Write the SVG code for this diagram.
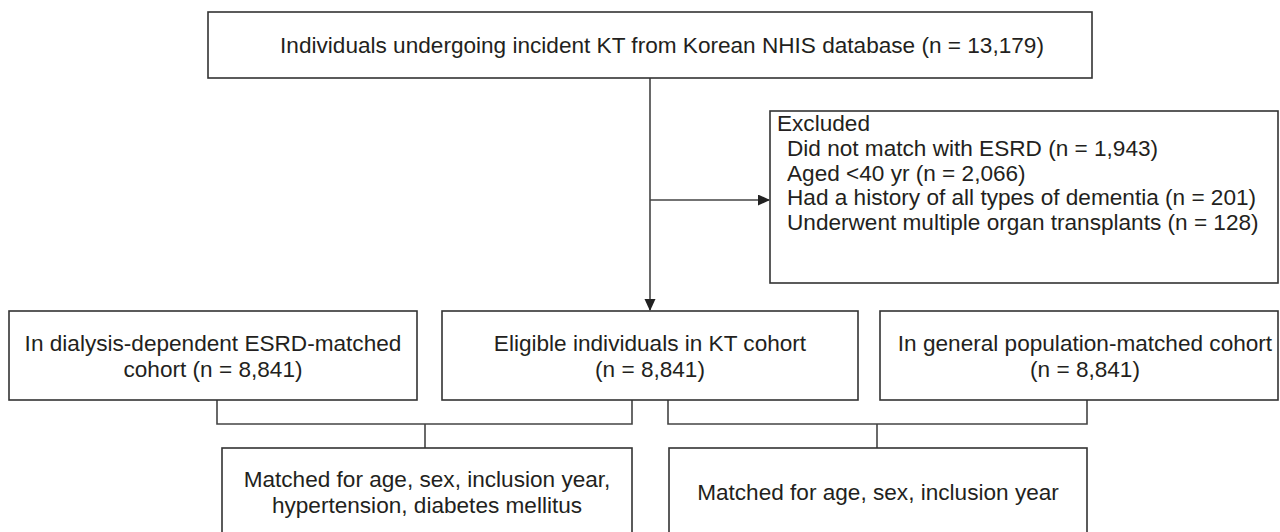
<svg xmlns="http://www.w3.org/2000/svg" width="1280" height="532" viewBox="0 0 1280 532">
<defs>
<style>
.box{fill:#fff;stroke:#333;stroke-width:1.6}
.t{font-family:"Liberation Sans",Arial,sans-serif;font-size:22.6px;fill:#231f20}
.c{text-anchor:middle}
.ln{fill:none;stroke:#444;stroke-width:1.6}
</style>
<marker id="ah" markerWidth="12" markerHeight="12" refX="11" refY="5.5" orient="auto" markerUnits="userSpaceOnUse">
<path d="M0,0 L12,5.5 L0,11 z" fill="#222"/>
</marker>
</defs>
<rect width="1280" height="532" fill="#fff"/>
<g id="connectors">
<path class="ln" d="M650,78 V310" marker-end="url(#ah)"/>
<path class="ln" d="M650,200 H769" marker-end="url(#ah)"/>
<path class="ln" d="M217,400 V424 H632 V400"/>
<path class="ln" d="M425,424 V448"/>
<path class="ln" d="M668,400 V424 H1087 V400"/>
<path class="ln" d="M877,424 V448"/>
</g>
<g id="n-source">
<rect class="box" x="208" y="12" width="884" height="66"/>
<text class="t c" x="662" y="53">Individuals undergoing incident KT from Korean NHIS database (n = 13,179)</text>
</g>
<g id="n-excluded">
<rect class="box" x="770" y="111" width="508" height="172"/>
<text class="t" x="777" y="131">Excluded</text>
<text class="t" x="787" y="156">Did not match with ESRD (n = 1,943)</text>
<text class="t" x="787" y="180.5">Aged &lt;40 yr (n = 2,066)</text>
<text class="t" x="787" y="205">Had a history of all types of dementia (n = 201)</text>
<text class="t" x="787" y="229.5">Underwent multiple organ transplants (n = 128)</text>
</g>
<g id="n-esrd">
<rect class="box" x="9" y="311" width="408" height="89"/>
<text class="t c" x="213" y="351">In dialysis-dependent ESRD-matched</text>
<text class="t c" x="213" y="377">cohort (n = 8,841)</text>
</g>
<g id="n-kt">
<rect class="box" x="442" y="311" width="416" height="89"/>
<text class="t c" x="650" y="351">Eligible individuals in KT cohort</text>
<text class="t c" x="650" y="377">(n = 8,841)</text>
</g>
<g id="n-general">
<rect class="box" x="880" y="311" width="398" height="89"/>
<text class="t c" x="1085" y="351">In general population-matched cohort</text>
<text class="t c" x="1085" y="377">(n = 8,841)</text>
</g>
<g id="n-match1">
<rect class="box" x="222" y="448" width="410" height="100"/>
<text class="t c" x="427" y="487">Matched for age, sex, inclusion year,</text>
<text class="t c" x="427" y="513">hypertension, diabetes mellitus</text>
</g>
<g id="n-match2">
<rect class="box" x="669" y="448" width="418" height="100"/>
<text class="t c" x="878" y="500">Matched for age, sex, inclusion year</text>
</g>
</svg>
